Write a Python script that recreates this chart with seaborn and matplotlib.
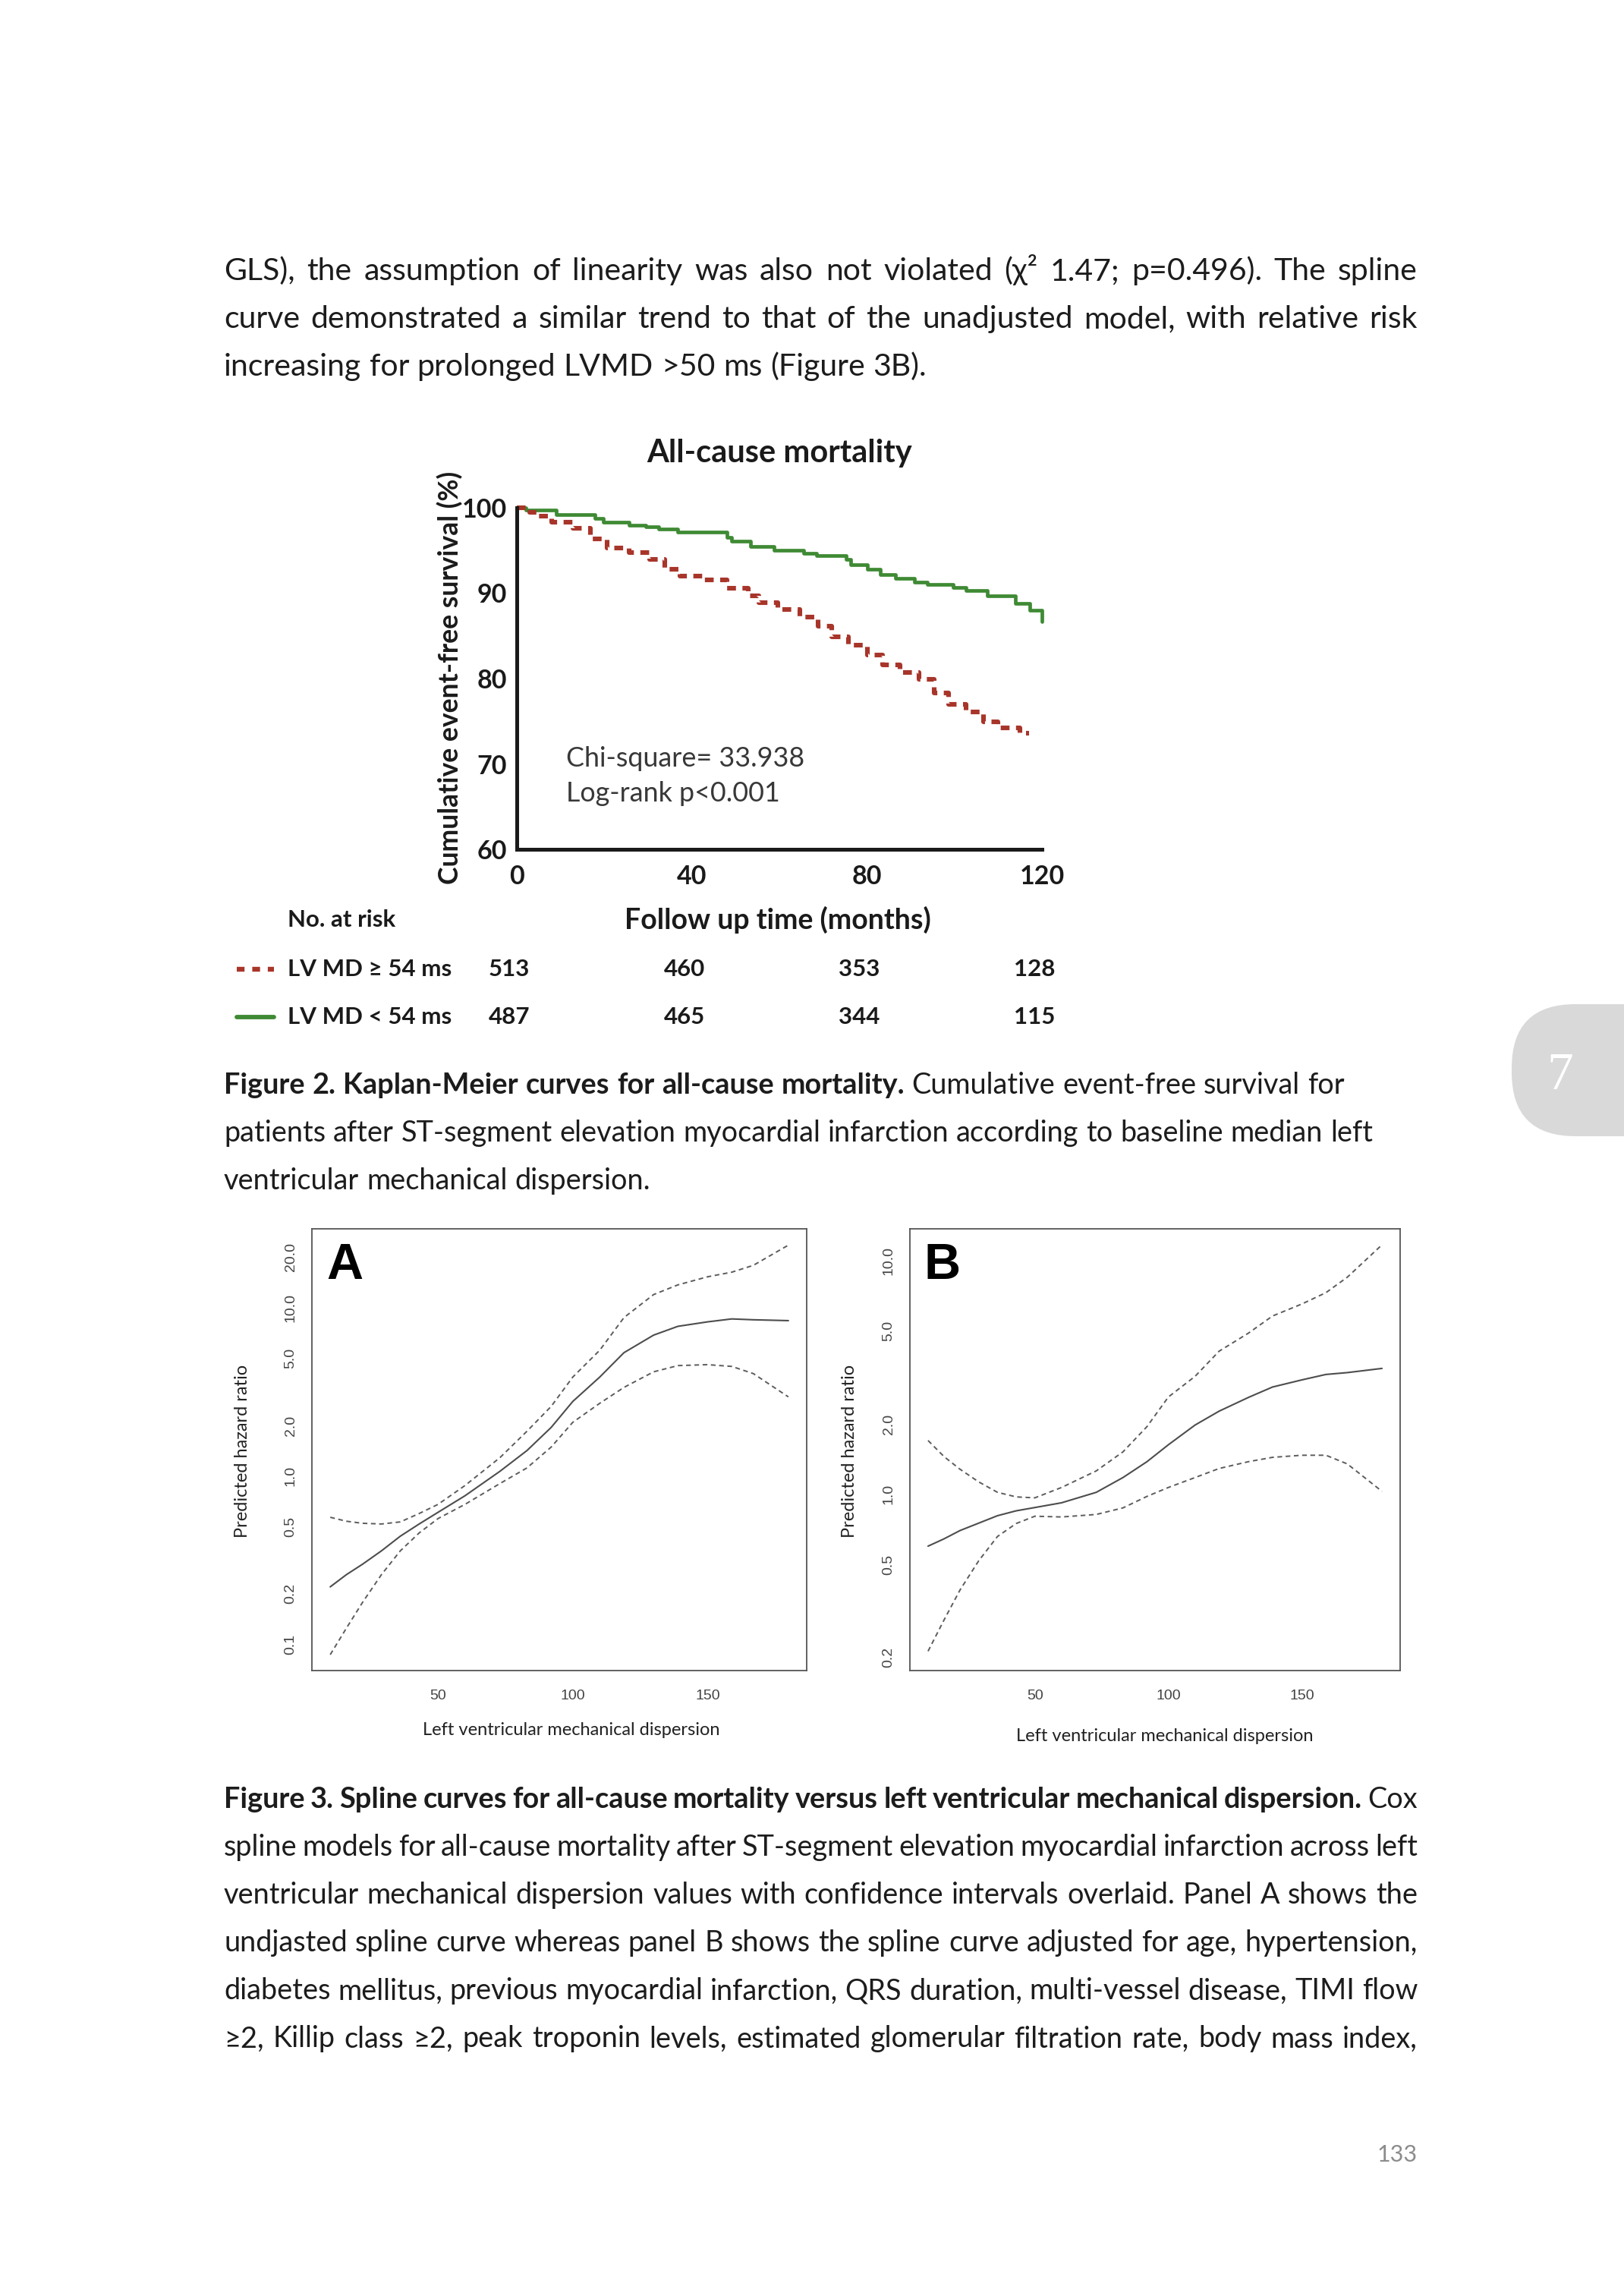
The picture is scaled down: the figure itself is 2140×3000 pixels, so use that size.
import numpy as np
import pandas as pd
import matplotlib
matplotlib.use("Agg")
import matplotlib.pyplot as plt
import matplotlib.transforms as mtransforms
from matplotlib.patches import FancyBboxPatch
from matplotlib.lines import Line2D
from matplotlib import font_manager as fm
import seaborn as sns

# ---------------- data ----------------
# Kaplan-Meier curves (months, % event-free survival)
km_time_short = [0, 2, 9, 17.8, 19.7, 25.6, 29.5, 32.4, 36.8, 48, 49, 53.4, 58.7,
                 65.6, 68.5, 75.3, 76.3, 80.2, 83.1, 86.5, 90.9, 93.9, 99.7, 102.6,
                 107.5, 113.9, 117.3, 120]
km_surv_short = [100, 99.7, 99.2, 98.8, 98.3, 98.0, 97.8, 97.5, 97.2, 96.5, 96.1, 95.5,
                 95.0, 94.7, 94.4, 94.0, 93.3, 92.8, 92.2, 91.7, 91.3, 91.0, 90.7, 90.3,
                 89.7, 88.8, 88.0, 86.7]
km_time_long = [0, 3, 5, 8, 12.9, 16.8, 20.7, 25.6, 30.4, 33.9, 37.3, 42.6, 48, 52.9,
                55.3, 59.7, 64.6, 68.9, 71.9, 75.8, 80.2, 83.6, 87.5, 91.9, 95.3, 98.7,
                102.6, 106.6, 110, 114.9, 117]
km_surv_long = [100, 99.5, 99.0, 98.3, 97.6, 96.4, 95.3, 94.8, 94.0, 92.8, 92.0, 91.6,
                90.6, 89.7, 88.9, 88.1, 87.2, 86.1, 84.9, 83.9, 82.8, 81.6, 80.7, 79.9,
                78.3, 77.0, 76.1, 74.9, 74.2, 73.6, 73.6]
km_xticks = [0, 40, 80, 120]
km_yticks = [60, 70, 80, 90, 100]
risk_times = [0, 40, 80, 120]
risk_long = [513, 460, 353, 128]
risk_short = [487, 465, 344, 115]
group_labels = ["LV MD \u2265 54 ms", "LV MD < 54 ms"]

# Spline curves (LV mechanical dispersion vs predicted hazard ratio)
spline_x = [10, 16, 22, 29, 36, 43, 50, 60, 73, 83, 92, 100, 110, 119, 130, 139, 150, 159, 167, 180]
A_fit = [0.22, 0.26, 0.30, 0.36, 0.44, 0.52, 0.61, 0.765, 1.07, 1.42, 1.95, 2.78, 3.88, 5.42,
         6.89, 7.77, 8.26, 8.6, 8.5, 8.4]
A_hi = [0.57, 0.54, 0.525, 0.52, 0.535, 0.60, 0.68, 0.88, 1.29, 1.85, 2.6, 3.88, 5.6, 8.76,
        12.0, 13.7, 15.3, 16.3, 17.9, 23.6]
A_lo = [0.087, 0.125, 0.178, 0.26, 0.36, 0.46, 0.56, 0.68, 0.905, 1.12, 1.49, 2.09, 2.71, 3.37,
        4.17, 4.54, 4.6, 4.49, 4.07, 2.96]
B_fit = [0.60, 0.645, 0.70, 0.753, 0.81, 0.85, 0.878, 0.92, 1.02, 1.18, 1.38, 1.63, 1.98, 2.27,
         2.6, 2.88, 3.09, 3.26, 3.32, 3.46]
B_hi = [1.70, 1.45, 1.28, 1.13, 1.02, 0.975, 0.966, 1.07, 1.26, 1.52, 1.95, 2.61, 3.2, 4.1,
        4.9, 5.8, 6.53, 7.3, 8.5, 11.7]
B_lo = [0.213, 0.29, 0.39, 0.52, 0.66, 0.75, 0.806, 0.80, 0.82, 0.875, 0.98, 1.07, 1.18, 1.29,
        1.38, 1.44, 1.47, 1.47, 1.35, 1.03]
A_yticks = [0.1, 0.2, 0.5, 1.0, 2.0, 5.0, 10.0, 20.0]
B_yticks = [0.2, 0.5, 1.0, 2.0, 5.0, 10.0]
spline_xticks = [50, 100, 150]

body_lines = [
    "GLS), the assumption of linearity was also not violated (\u03c7\u00b2 1.47; p=0.496). The spline",
    "curve demonstrated a similar trend to that of the unadjusted model, with relative risk",
    "increasing for prolonged LVMD >50 ms (Figure 3B).",
]
fig2_caption = [
    [("Figure 2. Kaplan-Meier curves for all-cause mortality.", "bold"),
     ("Cumulative event-free survival for", "normal")],
    [("patients after ST-segment elevation myocardial infarction according to baseline median left", "normal")],
    [("ventricular mechanical dispersion.", "normal")],
]
fig3_caption = [
    [("Figure 3. Spline curves for all-cause mortality versus left ventricular mechanical dispersion.", "bold"),
     ("Cox", "normal")],
    [("spline models for all-cause mortality after ST-segment elevation myocardial infarction across left", "normal")],
    [("ventricular mechanical dispersion values with confidence intervals overlaid. Panel A shows the", "normal")],
    [("undjasted spline curve whereas panel B shows the spline curve adjusted for age, hypertension,", "normal")],
    [("diabetes mellitus, previous myocardial infarction, QRS duration, multi-vessel disease, TIMI flow", "normal")],
    [("\u22652, Killip class \u22652, peak troponin levels, estimated glomerular filtration rate, body mass index,", "normal")],
]

# ---------------- style ----------------
sns.set_theme(style="white")
names = {f.name for f in fm.fontManager.ttflist}
def pick(*cands):
    for c in cands:
        if c in names:
            return c
    return "DejaVu Sans"
BODYF = [pick("Lato", "Open Sans", "Noto Sans"), "DejaVu Sans"]
RF = [pick("Liberation Sans", "DejaVu Sans"), "DejaVu Sans"]
SERIF = [pick("Liberation Serif", "DejaVu Serif"), "DejaVu Serif"]
plt.rcParams["font.family"] = BODYF

W, H = 2140, 3000
fig = plt.figure(figsize=(W / 100, H / 100), dpi=100)
fig.patch.set_facecolor("white")
PX = mtransforms.Affine2D().scale(1.0 / W, 1.0 / H) + fig.transFigure
renderer = fig.canvas.get_renderer()
TXT = "#1c1c1c"

def Y(y):
    return H - y

def space_w(size, weight):
    a = fig.text(0, 0, "n n", fontsize=size, fontweight=weight, family=BODYF, transform=PX)
    b = fig.text(0, 0, "nn", fontsize=size, fontweight=weight, family=BODYF, transform=PX)
    w = a.get_window_extent(renderer).width - b.get_window_extent(renderer).width
    a.remove(); b.remove()
    return w

def text_line(segs, x0, x1, ybase, size, justify=False):
    words = []
    for s, wt in segs:
        for w in s.split():
            words.append((w, wt))
    arts = []
    for w, wt in words:
        arts.append(fig.text(0, 0, w, transform=PX, fontsize=size, fontweight=wt,
                             family=BODYF, color=TXT, ha="left", va="baseline"))
    widths = [a.get_window_extent(renderer).width for a in arts]
    sp = space_w(size, "normal")
    n = len(words)
    if justify and n > 1:
        gap = (x1 - x0 - sum(widths)) / (n - 1)
        if gap < 0.5 * sp:
            scale = (x1 - x0) / (sum(widths) + 0.5 * sp * (n - 1))
            for a in arts:
                a.set_fontsize(size * scale)
            widths = [a.get_window_extent(renderer).width for a in arts]
            sp = space_w(size * scale, "normal")
            gap = (x1 - x0 - sum(widths)) / (n - 1)
    else:
        gap = sp
    x = x0
    for a, wd in zip(arts, widths):
        a.set_position((x, Y(ybase)))
        x += wd + gap

# ---------------- body text ----------------
LX0, LX1 = 295, 1868
BODY_SIZE = 29.5
CAP_SIZE = 27.3
for i, line in enumerate(body_lines):
    text_line([(line, "normal")], LX0, LX1, 369 + i * 63.1, BODY_SIZE, justify=(i < 2))
for i, segs in enumerate(fig2_caption):
    text_line(segs, LX0, LX1, 1441 + i * 63.1, CAP_SIZE, justify=False)
for i, segs in enumerate(fig3_caption):
    text_line(segs, LX0, LX1, 2382 + i * 63.1, CAP_SIZE, justify=True)

fig.text(1868, Y(2839), "133", transform=PX, ha="right", va="center",
         fontsize=22, color="#8c8c8c", family=BODYF)

# chapter tab
tab = FancyBboxPatch((1992, Y(1497)), 300, 174, boxstyle="round,pad=0,rounding_size=84",
                     transform=PX, facecolor="#d9d9d9", edgecolor="none")
fig.add_artist(tab)
fig.text(2056, Y(1418), "7", transform=PX, ha="center", va="center", fontsize=50,
         color="white", family=SERIF)

# ---------------- Kaplan-Meier ----------------
RED = "#a8352a"
GREEN = "#3f8a34"
KMC = "#1a1a1a"
ax = fig.add_axes([681 / W, 1 - 1119 / H, (1373 - 681) / W, (1119 - 669) / H])
df_s = pd.DataFrame({"t": km_time_short, "s": km_surv_short})
df_l = pd.DataFrame({"t": km_time_long, "s": km_surv_long})
sns.lineplot(data=df_s, x="t", y="s", ax=ax, color=GREEN, linewidth=3.4,
             drawstyle="steps-post", estimator=None, sort=False, clip_on=False)
sns.lineplot(data=df_l, x="t", y="s", ax=ax, color=RED, linewidth=4.4,
             drawstyle="steps-post", estimator=None, sort=False, clip_on=False,
             linestyle=(0, (1.9, 1.4)))
ax.set_xlim(0, 120)
ax.set_ylim(60, 100)
sns.despine(ax=ax)
for s in ("left", "bottom"):
    ax.spines[s].set_linewidth(3.6)
    ax.spines[s].set_color(KMC)
ax.set_xticks(km_xticks)
ax.set_yticks(km_yticks)
ax.set_xticklabels([str(v) for v in km_xticks], fontsize=24.5, fontweight="bold", family=BODYF, color=KMC)
ax.set_yticklabels([str(v) for v in km_yticks], fontsize=24.5, fontweight="bold", family=BODYF, color=KMC)
ax.tick_params(axis="both", direction="out", length=7.5, width=3.4, color=KMC)
ax.tick_params(axis="y", pad=2)
ax.tick_params(axis="x", pad=7)
ax.set_xlabel("")
ax.set_ylabel("")
ax.patch.set_alpha(0)
ax.text(11.3, 70.6, "Chi-square= 33.938", fontsize=25.8, color="#383838", family=BODYF,
        ha="left", va="center")
ax.text(11.3, 66.5, "Log-rank p<0.001", fontsize=25.8, color="#383838", family=BODYF,
        ha="left", va="center")

fig.text(1027, Y(597), "All-cause mortality", transform=PX, ha="center", va="center",
         fontsize=30, fontweight="bold", color=KMC, family=BODYF)
fig.text(593, Y(893), "Cumulative event-free survival (%)", transform=PX, ha="center",
         va="center", rotation=90, fontsize=25.6, fontweight="bold", color=KMC, family=BODYF)
fig.text(379, Y(1212), "No. at risk", transform=PX, ha="left", va="center",
         fontsize=22.5, fontweight="bold", color=KMC, family=BODYF)
fig.text(1025, Y(1212), "Follow up time (months)", transform=PX, ha="center", va="center",
         fontsize=27, fontweight="bold", color=KMC, family=BODYF)

bt = mtransforms.blended_transform_factory(ax.transData, PX)
bt = mtransforms.offset_copy(bt, fig=fig, x=-10, units="dots")
for yrow, lab, counts, col, ls, lw in [
        (1277, group_labels[0], risk_long, RED, (0, (1.6, 1.6)), 4.6),
        (1340, group_labels[1], risk_short, GREEN, "-", 4.2)]:
    fig.add_artist(Line2D([312, 361], [Y(yrow), Y(yrow)], transform=PX, color=col,
                          linewidth=lw, linestyle=ls))
    fig.text(379, Y(yrow), lab, transform=PX, ha="left", va="center", fontsize=22.5,
             fontweight="bold", color=KMC, family=BODYF)
    for t, c in zip(risk_times, counts):
        ax.text(t, Y(yrow), str(c), transform=bt, ha="center", va="center", fontsize=22.5,
                fontweight="bold", color=KMC, family=BODYF, clip_on=False)

# ---------------- Spline panels ----------------
LINEC = "#4d4d4d"
def spline_panel(rect, fit, lo, hi, yticks, ylim, letter, xlab_pos, ylab_pos):
    a = fig.add_axes(rect)
    d = pd.DataFrame({"x": spline_x, "fit": fit, "lo": lo, "hi": hi})
    sns.lineplot(data=d, x="x", y="fit", ax=a, color=LINEC, linewidth=1.5, estimator=None, sort=False)
    for col in ("lo", "hi"):
        sns.lineplot(data=d, x="x", y=col, ax=a, color="#5c5c5c", linewidth=1.4,
                     estimator=None, sort=False, linestyle=(0, (3.2, 2.4)))
    a.set_yscale("log")
    a.set_xlim(3.2, 186.8)
    a.set_ylim(*ylim)
    a.minorticks_off()
    a.set_yticks(yticks)
    a.set_yticklabels([f"{v:.1f}" for v in yticks], rotation=90, va="center",
                      fontsize=14, color="#444444", family=RF)
    a.set_xticks(spline_xticks)
    a.set_xticklabels([str(v) for v in spline_xticks], fontsize=14, color="#444444", family=RF)
    a.tick_params(axis="both", direction="out", length=8, width=1.1, color="#555555")
    a.tick_params(axis="y", pad=6)
    a.tick_params(axis="x", pad=10)
    for s in a.spines.values():
        s.set_visible(True)
        s.set_linewidth(1.3)
        s.set_color("#555555")
    a.set_xlabel("")
    a.set_ylabel("")
    a.text(0.066, 0.915, letter, transform=a.transAxes, ha="center", va="center",
           fontsize=48, fontweight="bold", color="black", family=RF)
    fig.text(xlab_pos[0], Y(xlab_pos[1]), "Left ventricular mechanical dispersion", transform=PX,
             ha="center", va="center", fontsize=17, color="#222222", family=BODYF)
    fig.text(ylab_pos[0], Y(ylab_pos[1]), "Predicted hazard ratio", transform=PX,
             ha="center", va="center", rotation=90, fontsize=17, color="#222222", family=BODYF)
    return a

yb = 1 - 2201 / H
hh = (2201 - 1619) / H
spline_panel([411 / W, yb, (1063 - 411) / W, hh], A_fit, A_lo, A_hi, A_yticks, (0.07, 29.5),
             "A", (753, 2279), (319, 1912))
spline_panel([1199 / W, yb, (1845 - 1199) / W, hh], B_fit, B_lo, B_hi, B_yticks, (0.176, 13.7),
             "B", (1535, 2287), (1119, 1912))

fig.savefig("out.png", dpi=100, facecolor="white")
